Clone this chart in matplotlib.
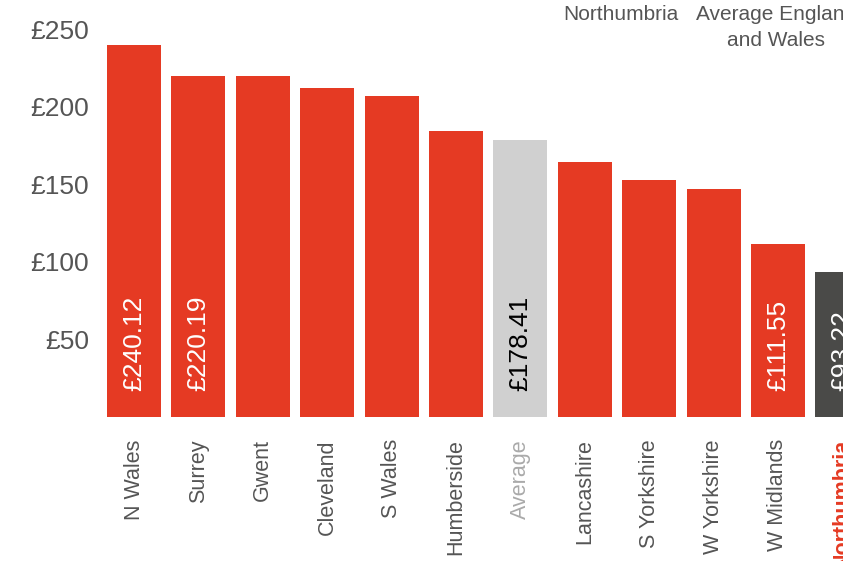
import matplotlib.pyplot as plt

plt.rcParams['font.family'] = ['Liberation Sans', 'DejaVu Sans']

# data
areas = ["N Wales", "Surrey", "Gwent", "Cleveland", "S Wales", "Humberside",
         "Average", "Lancashire", "S Yorkshire", "W Yorkshire", "W Midlands",
         "Northumbria"]
values = [240.12, 220.19, 220.0, 212.4, 207.2, 184.6,
          178.41, 164.6, 153.0, 147.2, 111.55, 93.22]
shown_labels = {"N Wales": "£240.12", "Surrey": "£220.19", "Average": "£178.41",
                "W Midlands": "£111.55", "Northumbria": "£93.22"}
yticks = [50, 100, 150, 200, 250]
ytick_labels = ["£50", "£100", "£150", "£200", "£250"]

RED = "#E53A23"
GREY = "#D0D0D0"
DARK = "#4A4A48"
TEXT = "#555555"

W, H = 843, 561
fig = plt.figure(figsize=(W / 100, H / 100), dpi=100)
# axes runs off the right edge, like the cropped original
ax = fig.add_axes([100 / W, (H - 417) / H, (843 - 100) / W, 417 / H])

colors = []
for a in areas:
    if a == "Average":
        colors.append(GREY)
    elif a == "Northumbria":
        colors.append(DARK)
    else:
        colors.append(RED)

x = list(range(len(areas)))
ax.bar(x, values, width=0.84, color=colors, linewidth=0)

for i, a in enumerate(areas):
    if a in shown_labels:
        c = "black" if a == "Average" else "white"
        ax.text(i, 17, shown_labels[a], rotation=90, ha="center", va="bottom",
                color=c, fontsize=19)

ax.set_xlim(-0.528, 11.01)
ax.set_ylim(0, 269)
ax.set_yticks(yticks)
ax.set_yticklabels(ytick_labels, fontsize=19, color=TEXT)
ax.set_xticks(x)
ax.set_xticklabels(areas, rotation=90, fontsize=15.5, color=TEXT, va="top")
ax.tick_params(length=0)
ax.tick_params(axis="y", pad=8)
ax.tick_params(axis="x", pad=16)
for lbl in ax.get_xticklabels():
    if lbl.get_text() == "Average":
        lbl.set_color("#AAAAAA")
    elif lbl.get_text() == "Northumbria":
        lbl.set_color(RED)
        lbl.set_fontweight("bold")
for s in ax.spines.values():
    s.set_visible(False)

# legend text at top right
fig.text(621 / W, 1 - 15 / H, "Northumbria", ha="center", va="center",
         fontsize=15, color=TEXT)
fig.text(776 / W, 1 - 5 / H, "Average England\nand Wales", ha="center", va="top",
         fontsize=15, color=TEXT, linespacing=1.45)

fig.savefig("out.png", dpi=100)
